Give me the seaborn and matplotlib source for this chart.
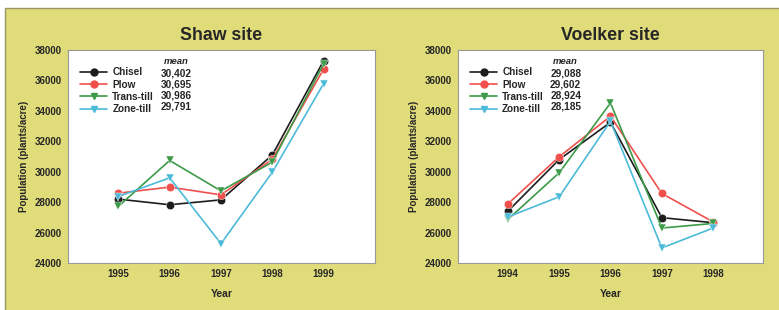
import matplotlib
matplotlib.use("Agg")
import matplotlib.pyplot as plt
from matplotlib.lines import Line2D
from matplotlib.patches import Rectangle
import seaborn as sns
import pandas as pd

treatments = ["Chisel", "Plow", "Trans-till", "Zone-till"]
colors = ["#1c1c1c", "#f0504c", "#3c9a48", "#4cbad8"]
markers = ["o", "o", "v", "v"]

shaw_years = [1995, 1996, 1997, 1998, 1999]
shaw_chisel = [28200, 27830, 28150, 31100, 37300]
shaw_plow = [28590, 28990, 28480, 30820, 36750]
shaw_trans = [27720, 30740, 28740, 30630, 37100]
shaw_zone = [28370, 29600, 25270, 29970, 35800]
shaw_means = ["30,402", "30,695", "30,986", "29,791"]

voelker_years = [1994, 1995, 1996, 1997, 1998]
voelker_chisel = [27400, 30800, 33250, 26980, 26650]
voelker_plow = [27880, 30980, 33650, 28570, 26700]
voelker_trans = [26860, 29930, 34520, 26300, 26600]
voelker_zone = [27030, 28350, 33320, 24990, 26300]
voelker_means = ["29,088", "29,602", "28,924", "28,185"]

yticks = [24000, 26000, 28000, 30000, 32000, 34000, 36000, 38000]

def make_df(years, series):
    rows = []
    for name, vals in zip(treatments, series):
        for y, v in zip(years, vals):
            rows.append({"Year": y, "Population": v, "Tillage": name})
    return pd.DataFrame(rows)

sns.set_style("white")
plt.rcParams["font.family"] = ["Liberation Sans", "DejaVu Sans"]
plt.rcParams["font.weight"] = "bold"

fig = plt.figure(figsize=(7.79, 3.10), dpi=100)
fig.patch.set_facecolor("white")
bg = Rectangle((5 / 779, -0.1), 1.1, 1.1 - 8 / 310, transform=fig.transFigure,
               facecolor="#e0dc7a", edgecolor="#9c9660", linewidth=1.0, zorder=-10)
fig.patches.append(bg)

panels = [
    ("Shaw site", shaw_years, [shaw_chisel, shaw_plow, shaw_trans, shaw_zone], shaw_means,
     [68 / 779, 0.1516, 307 / 779, 0.687], (1994.02, 2000.0)),
    ("Voelker site", voelker_years, [voelker_chisel, voelker_plow, voelker_trans, voelker_zone], voelker_means,
     [458 / 779, 0.1516, 305 / 779, 0.687], (1993.03, 1998.97)),
]

pal = dict(zip(treatments, colors))
mk = dict(zip(treatments, markers))

for title, years, series, means, pos, xlim in panels:
    ax = fig.add_axes(pos)
    ax.set_zorder(1)
    df = make_df(years, series)
    sns.lineplot(data=df, x="Year", y="Population", hue="Tillage", style="Tillage",
                 palette=pal, markers=mk, dashes=False, markersize=6,
                 markeredgewidth=0.3, linewidth=1.2, legend=False, ax=ax)
    ax.set_facecolor("white")
    ax.set_xlim(*xlim)
    ax.set_ylim(24000, 38000)
    ax.set_xticks(years)
    ax.set_xticklabels([str(y) for y in years], fontsize=7, fontweight="bold")
    ax.set_yticks(yticks)
    ax.set_yticklabels([str(t) for t in yticks], fontsize=7, fontweight="bold")
    ax.tick_params(axis="both", direction="out", length=2.5, width=0.6, color="#888888", pad=2)
    for s in ax.spines.values():
        s.set_color("#999999")
        s.set_linewidth(0.8)
    ax.set_xlabel("Year", fontsize=7.5, fontweight="bold", labelpad=7)
    ax.set_ylabel("Population (plants/acre)", fontsize=7, fontweight="bold", labelpad=4)
    ax.set_title(title, fontsize=12.8, fontweight="bold", pad=7)

    handles = [Line2D([], [], color=c, marker=m, markersize=5, linewidth=1.2)
               for c, m in zip(colors, markers)]
    leg = ax.legend(handles, treatments, loc="upper left", bbox_to_anchor=(0.04, 0.918),
                    frameon=False, fontsize=7.2, handlelength=2.7, handletextpad=0.5,
                    labelspacing=0.22, borderaxespad=0.0, borderpad=0.0)
    for t in leg.get_texts():
        t.set_fontweight("bold")
    ax.text(0.352, 0.944, "mean", transform=ax.transAxes, fontsize=6.8,
            fontstyle="italic", fontweight="bold", ha="center", va="center")
    row_y = [0.892, 0.840, 0.786, 0.733]
    for yy, m in zip(row_y, means):
        ax.text(0.404, yy, m, transform=ax.transAxes, fontsize=7.3, fontweight="bold",
                ha="right", va="center")

fig.savefig("out.png", dpi=100, facecolor=fig.get_facecolor())
